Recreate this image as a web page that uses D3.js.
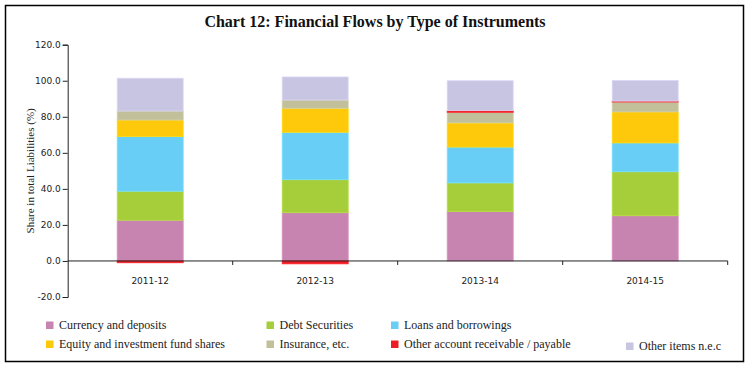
<!DOCTYPE html>
<html>
<head>
<meta charset="utf-8">
<script src="https://cdn.jsdelivr.net/npm/d3@7"></script>
<style>
  html, body { margin: 0; padding: 0; background: #fff; }
  svg { display: block; }
</style>
</head>
<body>
<div id="chart"></div>
<script>
const categories = ['2011-12', '2012-13', '2013-14', '2014-15']
const currency   = [22.6, 26.8, 27.4, 25.1]
const debt       = [16.1, 18.3, 15.9, 24.4]
const loans      = [30.3, 26.3, 19.9, 16.0]
const equity     = [9.2, 13.3, 13.4, 17.2]
const insurance  = [5.0, 4.6, 5.9, 5.5]
const otherAcct  = [-1.0, -1.6, 0.9, 0.5]
const otherItems = [18.2, 12.8, 16.6, 11.5]
const yTicks = [-20, 0, 20, 40, 60, 80, 100, 120]

const seriesNames = [
  'Currency and deposits', 'Debt Securities', 'Loans and borrowings',
  'Equity and investment fund shares', 'Insurance, etc.',
  'Other account receivable / payable', 'Other items n.e.c'
]
const seriesValues = [currency, debt, loans, equity, insurance, otherAcct, otherItems]
const colors = ['#c884b0', '#a6cd3a', '#69cef5', '#ffc90b', '#c2bf9b', '#ee1c25', '#c8c5e2']

const W = 752, H = 367
const MARGIN = { top: 44.7, right: 24.3, bottom: 70, left: 67.7 }
const innerW = W - MARGIN.left - MARGIN.right
const innerH = 297 - MARGIN.top

const svg = d3.select('#chart').append('svg')
  .attr('width', W).attr('height', H)

svg.append('rect')
  .attr('x', 5.5).attr('y', 5.5).attr('width', 738).attr('height', 356)
  .attr('fill', 'none').attr('stroke', '#000').attr('stroke-width', 1.5)

svg.append('text')
  .attr('x', 375).attr('y', 27)
  .attr('text-anchor', 'middle')
  .attr('font-family', 'Liberation Serif, serif')
  .attr('font-weight', 'bold').attr('font-size', 16)
  .attr('fill', '#111')
  .text('Chart 12: Financial Flows by Type of Instruments')

const g = svg.append('g').attr('transform', `translate(${MARGIN.left},${MARGIN.top})`)

const table = categories.map((c, i) => {
  const row = { cat: c }
  seriesNames.forEach((s, k) => { row[s] = seriesValues[k][i] })
  return row
})

const stacked = d3.stack()
  .keys(seriesNames)
  .offset(d3.stackOffsetDiverging)(table)

const x = d3.scaleBand().domain(categories).range([0, innerW])
  .paddingInner(0.6).paddingOuter(0.3)
const xTickScale = d3.scaleBand().domain(categories).range([0, innerW])
const y = d3.scaleLinear().domain([-20, 120]).range([innerH, 0])

// bars, with a faint lighter outline like the original
g.selectAll('g.layer').data(stacked).join('g')
  .attr('class', 'layer')
  .attr('fill', (d, i) => colors[i])
  .attr('stroke', (d, i) => d3.color(colors[i]).brighter(0.25))
  .selectAll('rect').data(d => d).join('rect')
  .attr('x', d => x(d.data.cat))
  .attr('width', x.bandwidth())
  .attr('y', d => y(Math.max(d[0], d[1])))
  .attr('height', d => Math.abs(y(d[0]) - y(d[1])))
  .attr('stroke-width', 0.8)

// y axis
const yAxis = g.append('g')
  .call(d3.axisLeft(y).tickValues(yTicks)
    .tickFormat(v => d3.format('.1f')(v).replace('\u2212', '-'))
    .tickSizeOuter(0).tickSize(5).tickPadding(2))
yAxis.selectAll('path, line').attr('stroke', '#222')
yAxis.selectAll('text').attr('font-family', 'DejaVu Sans, sans-serif').attr('font-size', 9).attr('fill', '#222')

// x axis at zero with ticks between categories
const xAxis = g.append('g').attr('transform', `translate(0,${y(0)})`)
xAxis.append('line').attr('x1', 0).attr('x2', innerW).attr('stroke', '#222')
xAxis.selectAll('line.tick').data(categories.slice(1).concat(['end'])).join('line')
  .attr('class', 'tick')
  .attr('x1', (d, i) => xTickScale.step() * (i + 1))
  .attr('x2', (d, i) => xTickScale.step() * (i + 1))
  .attr('y1', 0).attr('y2', 4).attr('stroke', '#222')
xAxis.selectAll('text').data(categories).join('text')
  .attr('x', d => xTickScale(d) + xTickScale.bandwidth() / 2)
  .attr('y', 23)
  .attr('text-anchor', 'middle')
  .attr('font-family', 'DejaVu Sans, sans-serif').attr('font-size', 9).attr('fill', '#222')
  .text(d => d)

svg.append('text')
  .attr('transform', `translate(30,${MARGIN.top + innerH / 2}) rotate(-90)`)
  .attr('text-anchor', 'middle').attr('dy', '0.35em')
  .attr('font-family', 'Liberation Serif, serif').attr('font-size', 11).attr('fill', '#222')
  .text('Share in total Liabilities (%)')

// legend
const legendPos = [[46, 325], [266.5, 325], [391, 325], [46, 344], [266.5, 344], [391, 344], [626, 346]]
const legend = svg.append('g').selectAll('g').data(seriesNames).join('g')
  .attr('transform', (d, i) => `translate(${legendPos[i][0]},${legendPos[i][1]})`)
legend.append('rect').attr('x', 0).attr('y', -3.5).attr('width', 7.5).attr('height', 7.5)
  .attr('fill', (d, i) => colors[i])
legend.append('text').attr('x', 13).attr('y', 0).attr('dy', '0.35em')
  .attr('font-family', 'Liberation Serif, serif').attr('font-size', 12).attr('fill', '#222')
  .text(d => d)
</script>
</body>
</html>
